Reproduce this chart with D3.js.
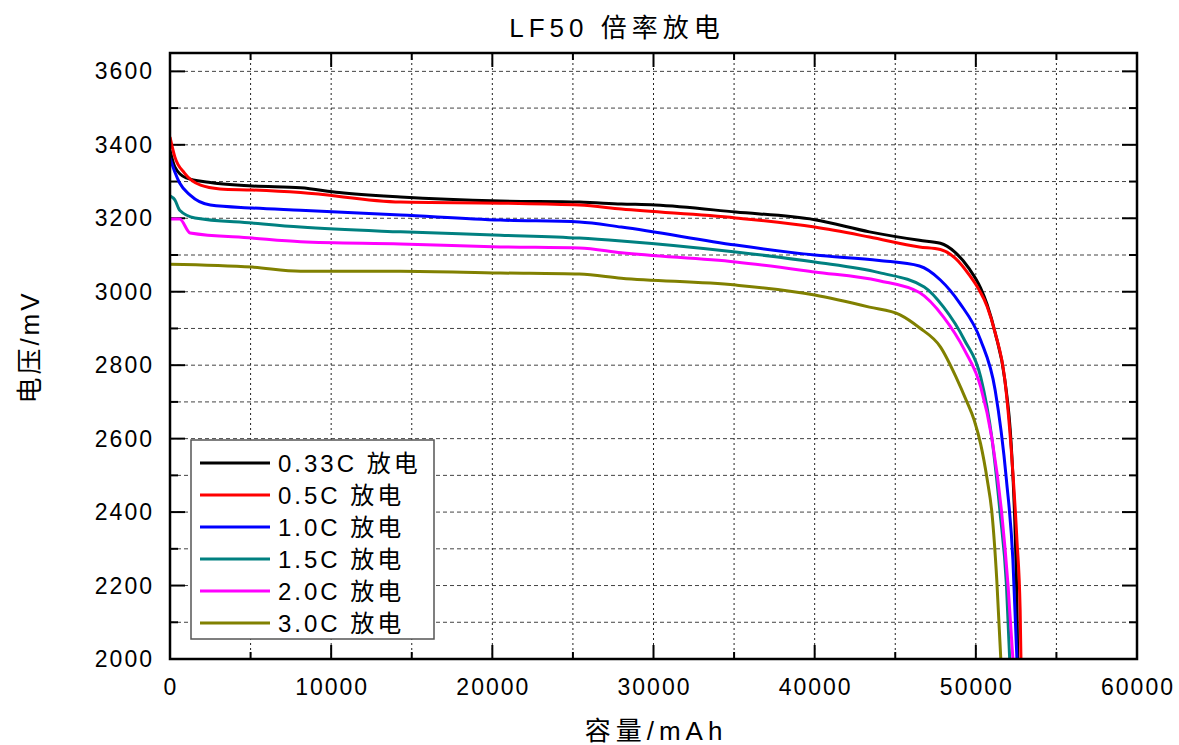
<!DOCTYPE html>
<html>
<head>
<meta charset="utf-8">
<script src="https://cdn.jsdelivr.net/npm/d3@7"></script>
<style>
  body { margin: 0; background: #fff; }
  text { font-family: "Liberation Sans", Arial, "Noto Sans CJK SC", sans-serif; fill: #000; }
</style>
</head>
<body>
<svg id="chart" width="1179" height="745"></svg>
<script>
'use strict';

// --- data (capacity mAh, voltage mV) ---
var seriesNames = ["0.33C 放电", "0.5C 放电", "1.0C 放电", "1.5C 放电", "2.0C 放电", "3.0C 放电"];
var seriesColors = ["#000000", "#ff0000", "#0000ff", "#008080", "#ff00ff", "#808000"];

var c033 = [[0,3385],[300,3340],[1000,3310],[2400,3298],[5100,3288],[8100,3283],[10500,3270],[14300,3258],
  [20500,3247],[25400,3244],[28000,3239],[30100,3236],[35100,3217],[40000,3196],[43400,3163],[46500,3140],
  [47800,3132],[48700,3108],[49600,3062],[50300,3010],[50700,2965],[51200,2888],[51800,2760],[52200,2580],
  [52450,2330],[52550,2150],[52600,2000]];
var c05 = [[0,3421],[300,3367],[900,3323],[1900,3290],[3100,3280],[5100,3277],[8100,3270],[14300,3244],
  [20500,3241],[25400,3236],[28000,3225],[35100,3201],[40000,3176],[43400,3149],[46500,3122],[47800,3115],
  [48700,3092],[49600,3045],[50200,3005],[50700,2960],[51200,2888],[51800,2760],[52200,2569],[52550,2324],
  [52750,2133],[52800,2000]];
var c10 = [[0,3364],[300,3326],[600,3296],[1250,3263],[2500,3236],[5100,3228],[8100,3222],[14300,3209],
  [20500,3195],[25400,3190],[28000,3176],[35100,3127],[40000,3100],[44000,3085],[46500,3070],[47800,3032],
  [49000,2969],[50300,2868],[51200,2732],[51900,2487],[52300,2270],[52550,2000]];
var c15 = [[0,3261],[300,3250],[600,3222],[1550,3201],[5100,3187],[8100,3176],[14300,3163],[20500,3154],
  [25400,3146],[28000,3138],[35100,3108],[40000,3081],[44000,3052],[46800,3013],[48000,2958],[49300,2868],
  [50300,2768],[51000,2600],[51500,2400],[51900,2200],[52100,2000]];
var c20 = [[0,3198],[600,3198],[1250,3160],[5100,3146],[8100,3136],[14300,3130],[20500,3122],[25400,3119],
  [28000,3106],[35100,3081],[40000,3054],[44000,3030],[46500,2998],[48000,2931],[49300,2841],[50300,2741],
  [51000,2600],[51600,2400],[52000,2200],[52300,2000]];
var c30 = [[0,3075],[5100,3067],[8100,3056],[14300,3056],[20500,3051],[25400,3048],[28000,3037],[35100,3018],
  [40000,2991],[43400,2958],[45300,2937],[46500,2902],[47800,2850],[48800,2765],[49400,2705],[49900,2650],
  [50300,2585],[50700,2490],[51000,2397],[51300,2215],[51550,2000]];
var seriesData = [c033, c05, c10, c15, c20, c30];

var xTicks = [0, 10000, 20000, 30000, 40000, 50000, 60000];
var yTicks = [2000, 2200, 2400, 2600, 2800, 3000, 3200, 3400, 3600];

(function() {
  var svg = d3.select("#chart");
  var left = 170, right = 1137, plotTop = 53, bottom = 659;

  var x = d3.scaleLinear().domain([0, 60000]).range([left, right]);
  var y = d3.scaleLinear().domain([2000, 3650]).range([bottom, plotTop]);

  // grid
  var grid = svg.append("g");
  grid.selectAll(".hg").data(d3.range(2100, 3650, 100)).enter().append("line")
    .attr("x1", left).attr("x2", right)
    .attr("y1", function(d){ return y(d); }).attr("y2", function(d){ return y(d); })
    .attr("stroke", "#444").attr("stroke-width", 1).attr("stroke-dasharray", "4,3");
  grid.selectAll(".vg").data(d3.range(5000, 60000, 5000)).enter().append("line")
    .attr("y1", plotTop).attr("y2", bottom)
    .attr("x1", function(d){ return x(d); }).attr("x2", function(d){ return x(d); })
    .attr("stroke", "#222").attr("stroke-width", 1).attr("stroke-dasharray", "2,3");

  // ticks (inward) on all four sides
  var ticks = svg.append("g").attr("stroke", "#000").attr("stroke-width", 2);
  d3.range(0, 60001, 5000).forEach(function(v){
    var len = v % 10000 === 0 ? 14 : 7;
    ticks.append("line").attr("x1", x(v)).attr("x2", x(v)).attr("y1", bottom).attr("y2", bottom - len);
    ticks.append("line").attr("x1", x(v)).attr("x2", x(v)).attr("y1", plotTop).attr("y2", plotTop + len);
  });
  d3.range(2000, 3651, 100).forEach(function(v){
    var len = v % 200 === 0 ? 15 : 8;
    ticks.append("line").attr("y1", y(v)).attr("y2", y(v)).attr("x1", left).attr("x2", left + len);
    ticks.append("line").attr("y1", y(v)).attr("y2", y(v)).attr("x1", right).attr("x2", right - len);
  });

  // series
  var line = d3.line()
    .curve(d3.curveMonotoneX)
    .x(function(d){ return x(d[0]); })
    .y(function(d){ return y(d[1]); });
  svg.append("defs").append("clipPath").attr("id", "clip")
    .append("rect").attr("x", left).attr("y", plotTop).attr("width", right - left).attr("height", bottom - plotTop);
  var lines = svg.append("g").attr("clip-path", "url(#clip)");
  seriesData.forEach(function(d, i){
    lines.append("path").datum(d).attr("d", line)
      .attr("fill", "none").attr("stroke", seriesColors[i])
      .attr("stroke-width", 3).attr("stroke-linejoin", "round");
  });

  // frame
  svg.append("rect").attr("x", left).attr("y", plotTop).attr("width", right - left).attr("height", bottom - plotTop)
    .attr("fill", "none").attr("stroke", "#000").attr("stroke-width", 2.5);

  // tick labels
  svg.selectAll(".xl").data(xTicks).enter().append("text")
    .attr("x", function(d){ return x(d) + 1; }).attr("y", 695)
    .attr("text-anchor", "middle").attr("font-size", 23).attr("letter-spacing", 2)
    .text(function(d){ return d; });
  svg.selectAll(".yl").data(yTicks).enter().append("text")
    .attr("x", 154).attr("y", function(d){ return y(d) + 8; })
    .attr("text-anchor", "end").attr("font-size", 23).attr("letter-spacing", 2)
    .text(function(d){ return d; });

  // titles
  svg.append("text").attr("x", 617).attr("y", 37).attr("text-anchor", "middle")
    .attr("font-size", 26).attr("letter-spacing", 5).text("LF50 倍率放电");
  svg.append("text").attr("x", 656).attr("y", 740).attr("text-anchor", "middle")
    .attr("font-size", 26).attr("letter-spacing", 5).text("容量/mAh");
  svg.append("text").attr("transform", "translate(39,347) rotate(-90)").attr("text-anchor", "middle")
    .attr("font-size", 26).attr("letter-spacing", 3).text("电压/mV");

  // legend
  var lg = svg.append("g");
  lg.append("rect").attr("x", 191).attr("y", 440).attr("width", 243).attr("height", 199)
    .attr("fill", "#fff").attr("stroke", "#555").attr("stroke-width", 1.5);
  seriesNames.forEach(function(name, i){
    var cy = 463 + i * 32;
    lg.append("line").attr("x1", 200).attr("x2", 270).attr("y1", cy).attr("y2", cy)
      .attr("stroke", seriesColors[i]).attr("stroke-width", 3);
    lg.append("text").attr("x", 278).attr("y", cy + 9).attr("font-size", 24)
      .attr("letter-spacing", 3).text(name);
  });
})();
</script>
</body>
</html>
